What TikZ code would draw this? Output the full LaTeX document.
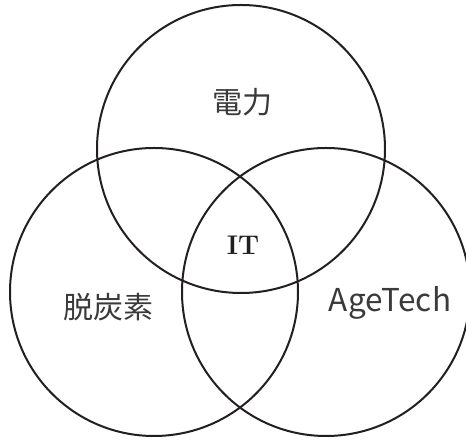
\documentclass[tikz,border=0pt]{standalone}
\usepackage{fontspec}
\newfontfamily\jpfont{Noto Sans CJK JP}
\usepackage{tikz}
\definecolor{inkline}{HTML}{231F20}
\definecolor{inktext}{HTML}{3A3A3A}

\begin{document}
\begin{tikzpicture}[x=1pt, y=1pt,
    ring/.style={circle, draw=inkline, line width=2pt, minimum size=288pt, inner sep=0pt},
    tag/.style={font=\jpfont\fontsize{30}{30}\selectfont, text=inktext, inner sep=0pt}]
    \useasboundingbox (0,0) rectangle (466,441);

    % Draw the three circles
    \foreach \name/\x/\y in {power/241/292, carbon/154/149, age/326/149} {
        \node[ring] (\name) at (\x, \y) {};
    }

    % Labels of the circles
    \node[tag] (powerlabel) at (242, 339) {電力};
    \node[tag] (carbonlabel) at (108, 134) {脱炭素};
    \node[tag, font=\jpfont\fontsize{31.5}{31.5}\selectfont] (agelabel) at (390, 138) {AgeTech};

    % Common part
    \node[font=\bfseries\fontsize{27}{27}\selectfont, text=inkline] (it) at (243, 196) {IT};
\end{tikzpicture}
\end{document}
